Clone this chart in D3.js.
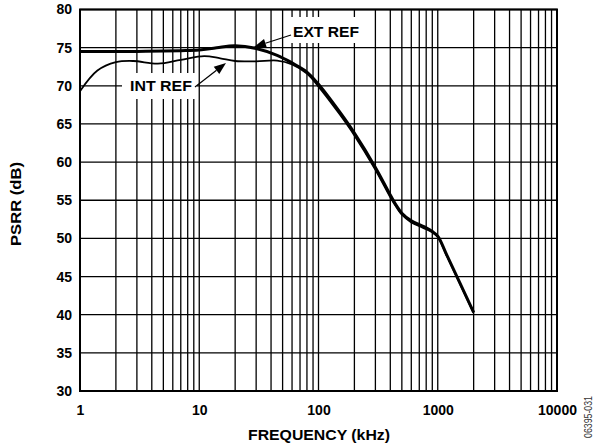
<!DOCTYPE html>
<html><head><meta charset="utf-8">
<script src="https://cdn.jsdelivr.net/npm/d3@7"></script>
<style>
html,body{margin:0;padding:0;background:#fff;}
svg text{font-family:"Liberation Sans",Arial,Helvetica,sans-serif;}
</style></head>
<body><svg id="c" width="599" height="448"></svg>
<script>
// ---- data ----
const extFreq = [1, 3, 7, 10, 14, 20, 30, 45, 60, 80, 100, 150, 200, 300, 400, 450, 500, 600, 700, 800, 900, 1000, 1200, 2000];
const extPsrr = [74.5, 74.5, 74.6, 74.7, 75.0, 75.25, 74.9, 74.0, 73.0, 71.8, 70.2, 66.6, 63.8, 59.3, 55.7, 54.3, 53.3, 52.3, 51.8, 51.4, 50.9, 50.3, 47.7, 40.3];
const intFreq = [1, 1.4, 2, 2.8, 4.5, 7, 11, 15, 20, 30, 45, 60, 80, 100, 150, 200, 300, 400, 450, 500, 600, 700, 800, 900, 1000, 1200, 2000];
const intPsrr = [69.3, 72.0, 73.1, 73.25, 72.9, 73.4, 73.9, 73.6, 73.25, 73.2, 73.3, 72.8, 71.6, 69.9, 66.3, 63.5, 59.0, 55.4, 54.1, 53.1, 52.1, 51.6, 51.2, 50.8, 50.2, 47.6, 40.2];
const xTicks = [1, 10, 100, 1000, 10000];
const yTicks = [30, 35, 40, 45, 50, 55, 60, 65, 70, 75, 80];
const labels = ["EXT REF", "INT REF"];

const svg = d3.select("#c");
const L = 80, R = 557, T = 9.5, B = 391;
const x = d3.scaleLog().domain([1, 10000]).range([L, R]);
const y = d3.scaleLinear().domain([30, 80]).range([B, T]);

// minor grid (1..9 per decade)
const vGrid = [];
for (let d = 1; d < 10000; d *= 10) for (let m = 1; m <= 9; m++) vGrid.push(d * m);
vGrid.push(10000);

const g = svg.append("g");
g.selectAll("line.v").data(vGrid).join("line")
  .attr("x1", d => x(d)).attr("x2", d => x(d)).attr("y1", T).attr("y2", B)
  .attr("stroke", "#000").attr("stroke-width", 1.3);
g.selectAll("line.h").data(yTicks).join("line")
  .attr("x1", L).attr("x2", R).attr("y1", d => y(d)).attr("y2", d => y(d))
  .attr("stroke", "#000").attr("stroke-width", 1.3);
svg.append("rect").attr("x", L).attr("y", T).attr("width", R - L).attr("height", B - T)
  .attr("fill", "none").attr("stroke", "#000").attr("stroke-width", 2);

// axes labels via d3 axes (lines hidden)
const xAxis = svg.append("g").attr("transform", `translate(0,${B})`)
  .call(d3.axisBottom(x).tickValues(xTicks).tickFormat(d3.format("d")).tickSize(0).tickPadding(14));
xAxis.select(".domain").remove();
xAxis.selectAll("text").attr("font-size", 14).attr("font-weight", "bold").attr("fill", "#000")
  .attr("font-family", "Liberation Sans, Arial, sans-serif");
const yAxis = svg.append("g").attr("transform", `translate(${L},0)`)
  .call(d3.axisLeft(y).tickValues(yTicks).tickSize(0).tickPadding(8));
yAxis.select(".domain").remove();
yAxis.selectAll("text").attr("font-size", 14).attr("font-weight", "bold").attr("fill", "#000")
  .attr("font-family", "Liberation Sans, Arial, sans-serif");

// label boxes
const boxes = svg.append("g");
boxes.append("rect").attr("x", 287).attr("y", 17).attr("width", 75).attr("height", 26).attr("fill", "#fff");
boxes.append("rect").attr("x", 122).attr("y", 73).attr("width", 75).attr("height", 26).attr("fill", "#fff");

// curves
const line = d3.line().x(d => x(d[0])).y(d => y(d[1])).curve(d3.curveCatmullRom.alpha(0.5));
svg.append("path").datum(intFreq.map((f, i) => [f, intPsrr[i]]))
  .attr("d", line).attr("fill", "none").attr("stroke", "#000").attr("stroke-width", 1.8);
svg.append("path").datum(extFreq.map((f, i) => [f, extPsrr[i]]))
  .attr("d", line).attr("fill", "none").attr("stroke", "#000").attr("stroke-width", 3);

// annotations
svg.append("text").attr("x", 293).attr("y", 37).text(labels[0])
  .attr("font-size", 15).attr("font-weight", "bold").attr("textLength", 66).attr("lengthAdjust", "spacingAndGlyphs");
svg.append("text").attr("x", 130).attr("y", 91).text(labels[1])
  .attr("font-size", 15).attr("font-weight", "bold").attr("textLength", 62).attr("lengthAdjust", "spacingAndGlyphs");

function arrow(x1, y1, x2, y2) {
  const ang = Math.atan2(y2 - y1, x2 - x1);
  const len = 12, w = 4.5;
  const bx = x2 - len * Math.cos(ang), by = y2 - len * Math.sin(ang);
  svg.append("line").attr("x1", x1).attr("y1", y1).attr("x2", bx).attr("y2", by)
    .attr("stroke", "#000").attr("stroke-width", 1.2);
  const px = -Math.sin(ang) * w, py = Math.cos(ang) * w;
  svg.append("path").attr("d", `M${x2},${y2}L${bx + px},${by + py}L${bx - px},${by - py}Z`).attr("fill", "#000");
}
arrow(291, 35, 254, 47);
arrow(195, 87, 226, 63);

// axis titles
svg.append("text").attr("x", 319).attr("y", 440).attr("text-anchor", "middle").text("FREQUENCY (kHz)")
  .attr("font-size", 15).attr("font-weight", "bold").attr("textLength", 142).attr("lengthAdjust", "spacingAndGlyphs");
svg.append("text").attr("transform", "translate(21,204) rotate(-90)").attr("text-anchor", "middle").text("PSRR (dB)")
  .attr("font-size", 15).attr("font-weight", "bold").attr("textLength", 84).attr("lengthAdjust", "spacingAndGlyphs");
svg.append("text").attr("transform", "translate(592,417) rotate(-90)").attr("text-anchor", "middle").text("06395-031")
  .attr("font-size", 11).attr("fill", "#333").attr("textLength", 42).attr("lengthAdjust", "spacingAndGlyphs");
</script></body></html>
